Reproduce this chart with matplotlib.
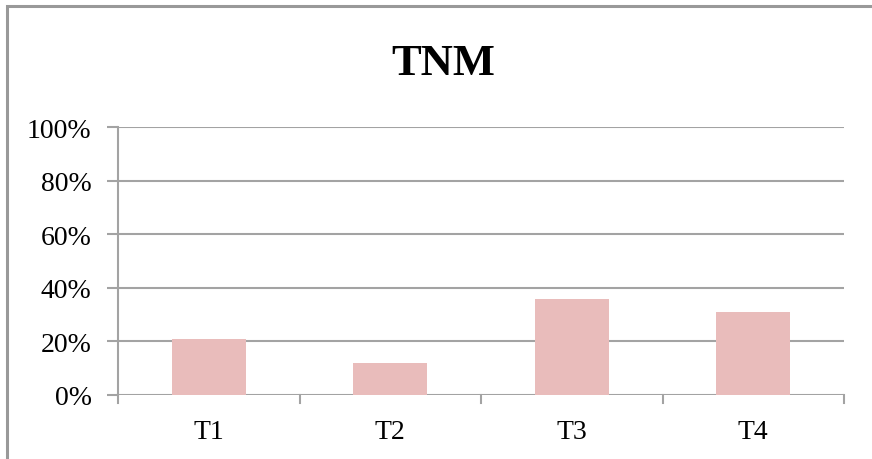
import matplotlib.pyplot as plt
import matplotlib.patches as mpatches
import numpy as np

# TNM share by stage
categories = ["T1", "T2", "T3", "T4"]
shares = [21, 12, 36, 31]
y_ticks = [0, 20, 40, 60, 80, 100]

GRID = "#a3a3a3"
BAR = "#e9bcbb"
SERIF = ["Liberation Serif", "DejaVu Serif"]

W, H, DPI = 872, 460, 100
fig = plt.figure(figsize=(W / DPI, H / DPI), dpi=DPI)

# axes box in pixels: left 118, right 844, top 128 (100%), bottom 396 (0%)
left, right, top, bottom = 118, 844, 128, 396
ax = fig.add_axes([left / W, 1 - bottom / H, (right - left) / W, (bottom - top) / H])

x = np.arange(len(categories))
ax.bar(x, shares, width=0.41, color=BAR, zorder=3)

ax.set_xlim(-0.5, len(categories) - 0.5)
ax.set_ylim(0, 100)
ax.set_yticks(y_ticks)
ax.set_yticklabels([f"{v}%" for v in y_ticks], fontfamily=SERIF, fontsize=20)
ax.set_xticks(x)
ax.set_xticklabels(categories, fontfamily=SERIF, fontsize=20)
ax.tick_params(axis="x", length=0, pad=17)
ax.tick_params(axis="y", length=8, width=1.5, color=GRID, pad=11)

# category boundary ticks below the baseline
for b in np.arange(-0.5, len(categories), 1.0):
    ax.plot([b, b], [0, -2.8], color=GRID, lw=1.5, clip_on=False, zorder=4)

for v in y_ticks:
    ax.axhline(v, color=GRID, lw=1.5, zorder=1)

for side in ["top", "right", "bottom"]:
    ax.spines[side].set_visible(False)
ax.spines["left"].set_color(GRID)
ax.spines["left"].set_linewidth(1.5)

fig.text(443 / W, 1 - 64 / H, "TNM", ha="center", va="center",
         fontfamily=SERIF, fontsize=32, fontweight="bold")

# outer chart frame
fig.add_artist(mpatches.Rectangle((7 / W, -0.1), 1.2, 1 - 7 / H + 0.1, transform=fig.transFigure,
                                  fill=False, edgecolor="#999999", lw=2.2))

fig.savefig("out.png", dpi=DPI)
